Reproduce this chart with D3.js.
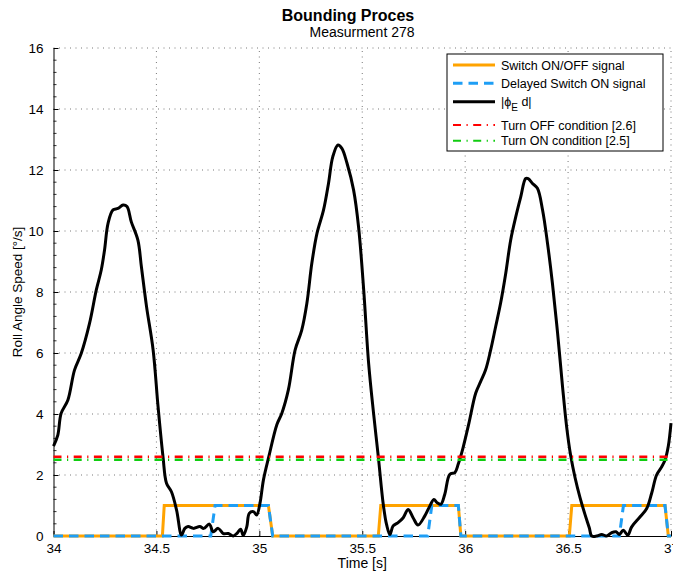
<!DOCTYPE html>
<html><head><meta charset="utf-8">
<script src="https://cdn.jsdelivr.net/npm/d3@7"></script>
<style>body{margin:0;background:#fff} text{font-family:"Liberation Sans",Arial,Helvetica,sans-serif;fill:#000}</style>
</head><body><svg id="c" width="673" height="573"></svg>
<script>
const titleText = "Bounding Proces";
const subtitleText = "Measurment 278";
const xLabel = "Time [s]";
const yLabel = "Roll Angle Speed [°/s]";
const xTicks = [34, 34.5, 35, 35.5, 36, 36.5, 37];
const yTicks = [0, 2, 4, 6, 8, 10, 12, 14, 16];
const legendLabels = ["Switch ON/OFF signal", "Delayed Switch ON signal", "|ϕ_E d|", "Turn OFF condition [2.6]", "Turn ON condition [2.5]"];
const offLevel = 2.6;
const onLevel = 2.5;
// Switch ON/OFF signal [time, value]
const switchSignal = [[34,0],[34.529,0],[34.538,1],[35.044,1],[35.065,0],[35.578,0],[35.59,1],[35.967,1],[35.979,0],[36.506,0],[36.518,1],[36.971,1],[36.987,0],[37,0]];
// Delayed switch ON signal
const delayedSignal = [[34,0],[34.764,0],[34.785,1],[35.044,1],[35.065,0],[35.818,0],[35.838,1],[35.967,1],[35.979,0],[36.749,0],[36.769,1],[36.971,1],[36.987,0],[37,0]];
// |phi_E d|
const phiSignal = [[34,2.95],[34.021,3.31],[34.037,4.02],[34.07,4.46],[34.102,5.44],[34.135,5.99],[34.175,6.97],[34.208,8.07],[34.232,8.72],[34.248,9.38],[34.265,10.25],[34.289,10.69],[34.313,10.74],[34.338,10.85],[34.357,10.8],[34.378,10.3],[34.41,9.7],[34.427,8.83],[34.452,7.52],[34.484,6.1],[34.508,4.24],[34.532,2.6],[34.549,1.73],[34.573,1.45],[34.598,0.85],[34.622,0.03],[34.638,0.25],[34.654,0.31],[34.68,0.25],[34.711,0.31],[34.73,0.25],[34.757,0.39],[34.776,0.14],[34.8,0.25],[34.825,0.08],[34.849,0.08],[34.873,0.0],[34.89,0.08],[34.909,0.22],[34.922,0.02],[34.939,0.3],[34.951,0.74],[34.971,0.8],[34.987,0.69],[35.003,1.07],[35.02,1.84],[35.046,2.6],[35.085,3.65],[35.109,4.02],[35.141,4.79],[35.174,6.1],[35.206,6.75],[35.231,7.63],[35.255,8.94],[35.28,9.92],[35.312,10.69],[35.336,11.56],[35.357,12.44],[35.382,12.82],[35.401,12.71],[35.426,12.22],[35.458,11.34],[35.482,10.14],[35.507,8.07],[35.531,5.66],[35.555,4.02],[35.578,2.6],[35.602,1.04],[35.618,0.38],[35.634,0.05],[35.65,0.33],[35.674,0.44],[35.699,0.6],[35.723,0.87],[35.747,0.6],[35.771,0.36],[35.804,0.66],[35.828,0.98],[35.848,1.2],[35.864,1.09],[35.882,1.04],[35.901,1.37],[35.925,2.02],[35.95,2.08],[35.966,2.35],[35.99,2.9],[36.018,3.69],[36.051,4.68],[36.075,5.06],[36.099,5.44],[36.124,6.1],[36.148,6.86],[36.172,7.63],[36.197,8.61],[36.221,9.7],[36.246,10.47],[36.27,11.12],[36.294,11.72],[36.306,11.72],[36.327,11.56],[36.351,11.4],[36.376,10.69],[36.4,9.6],[36.424,8.28],[36.449,6.65],[36.473,4.9],[36.493,3.58],[36.513,2.62],[36.534,1.91],[36.558,1.26],[36.582,0.71],[36.603,0.27],[36.615,0.0],[36.639,0.0],[36.663,0.05],[36.688,0.0],[36.712,0.11],[36.733,0.14],[36.749,0.05],[36.768,0.19],[36.79,0.03],[36.809,0.3],[36.85,0.63],[36.882,0.9],[36.906,1.4],[36.93,2.0],[36.955,2.27],[36.971,2.49],[36.987,2.95],[37,3.7]];

const svg = d3.select("#c");
const L = 53.5, R = 671, T = 48, B = 536;
const x = d3.scaleLinear().domain([34, 37]).range([L, R]);
const y = d3.scaleLinear().domain([0, 16]).range([B, T]);

const cOrange = "#ffa300", cBlue = "#1e9ef5", cRed = "#ff0000", cGreen = "#10cc10";
const dashDot = "8 5.5 1.2 5.5";

// grid
const grid = svg.append("g").attr("stroke", "#555").attr("stroke-width", 0.8).attr("stroke-dasharray", "1 4.5");
xTicks.filter(d => d !== 34).forEach(t => grid.append("line").attr("x1", x(t)).attr("x2", x(t)).attr("y1", B).attr("y2", T));
yTicks.filter(d => d !== 0).forEach(v => grid.append("line").attr("x1", L).attr("x2", R).attr("y1", y(v)).attr("y2", y(v)));

// axes
const xAxis = d3.axisBottom(x).tickValues(xTicks).tickFormat(d3.format("")).tickSizeInner(-5).tickSizeOuter(0).tickPadding(9);
const gx = svg.append("g").attr("transform", `translate(0,${B})`).call(xAxis);
const yAxis = d3.axisLeft(y).tickValues(yTicks).tickSizeInner(-5).tickSizeOuter(0).tickPadding(10);
const gy = svg.append("g").attr("transform", `translate(${L},0)`).call(yAxis);
[gx, gy].forEach(g => {
  g.select(".domain").attr("stroke", "#000").attr("stroke-width", 1);
  g.selectAll(".tick line").attr("stroke", "#000");
  g.selectAll(".tick text").style("font-size", "13.5px").attr("fill", "#000");
});
gx.selectAll(".tick text").attr("dy", "0.6em");
// minor y ticks
const minorY = d3.range(0, 16.01, 0.4).filter(v => Math.abs(v / 2 - Math.round(v / 2)) > 1e-6);
svg.append("g").selectAll("line").data(minorY).join("line")
  .attr("x1", L).attr("x2", L + 3).attr("y1", d => y(d)).attr("y2", d => y(d)).attr("stroke", "#000").attr("stroke-width", 0.8);

const line = d3.line().x(d => x(d[0])).y(d => y(d[1]));
svg.append("path").datum(switchSignal).attr("d", line).attr("fill", "none").attr("stroke", cOrange).attr("stroke-width", 3);
svg.append("path").datum(delayedSignal).attr("d", line).attr("fill", "none").attr("stroke", cBlue).attr("stroke-width", 3).attr("stroke-dasharray", "9.5 6");
svg.append("path").datum(phiSignal).attr("d", d3.line().curve(d3.curveCatmullRom.alpha(0.5)).x(d => x(d[0])).y(d => y(d[1])))
  .attr("fill", "none").attr("stroke", "#000").attr("stroke-width", 3).attr("stroke-linejoin", "round");
svg.append("line").attr("x1", L).attr("x2", R).attr("y1", y(offLevel)).attr("y2", y(offLevel)).attr("stroke", cRed).attr("stroke-width", 2.5).attr("stroke-dasharray", dashDot);
svg.append("line").attr("x1", L).attr("x2", R).attr("y1", y(onLevel)).attr("y2", y(onLevel)).attr("stroke", cGreen).attr("stroke-width", 2.5).attr("stroke-dasharray", dashDot);

// titles
svg.append("text").attr("x", 348).attr("y", 21).attr("text-anchor", "middle").style("font-size", "16px").style("font-weight", "bold").text(titleText);
svg.append("text").attr("x", 362).attr("y", 36.5).attr("text-anchor", "middle").style("font-size", "14px").text(subtitleText);
svg.append("text").attr("x", (L + R) / 2).attr("y", 568).attr("text-anchor", "middle").style("font-size", "14px").text(xLabel);
svg.append("text").attr("transform", `translate(21.5,${(T + B) / 2}) rotate(-90)`).attr("text-anchor", "middle").style("font-size", "13.5px").text(yLabel);

// legend
const lg = svg.append("g");
lg.append("rect").attr("x", 447).attr("y", 54).attr("width", 216).attr("height", 97).attr("fill", "#fff").attr("stroke", "#000").attr("stroke-width", 1);
const rowsY = [65, 83.3, 101.7, 125, 140.7];
const styles = [
  {c: cOrange, d: null, w: 3},
  {c: cBlue, d: "9.5 6", w: 3},
  {c: "#000", d: null, w: 3},
  {c: cRed, d: dashDot, w: 2},
  {c: cGreen, d: dashDot, w: 2}
];
styles.forEach((s, i) => {
  const ln = lg.append("line").attr("x1", 453).attr("x2", 495).attr("y1", rowsY[i]).attr("y2", rowsY[i]).attr("stroke", s.c).attr("stroke-width", s.w);
  if (s.d) ln.attr("stroke-dasharray", s.d);
  const tx = lg.append("text").attr("x", 501).attr("y", rowsY[i] + 4.5).style("font-size", "12.5px");
  const lab = legendLabels[i];
  if (lab.includes("_")) {
    const [a, rest] = lab.split("_");
    tx.append("tspan").text(a);
    tx.append("tspan").attr("dy", 5).style("font-size", "10px").text(rest[0]);
    tx.append("tspan").attr("dy", -5).text(rest.slice(1));
  } else tx.text(lab);
});
</script></body></html>
